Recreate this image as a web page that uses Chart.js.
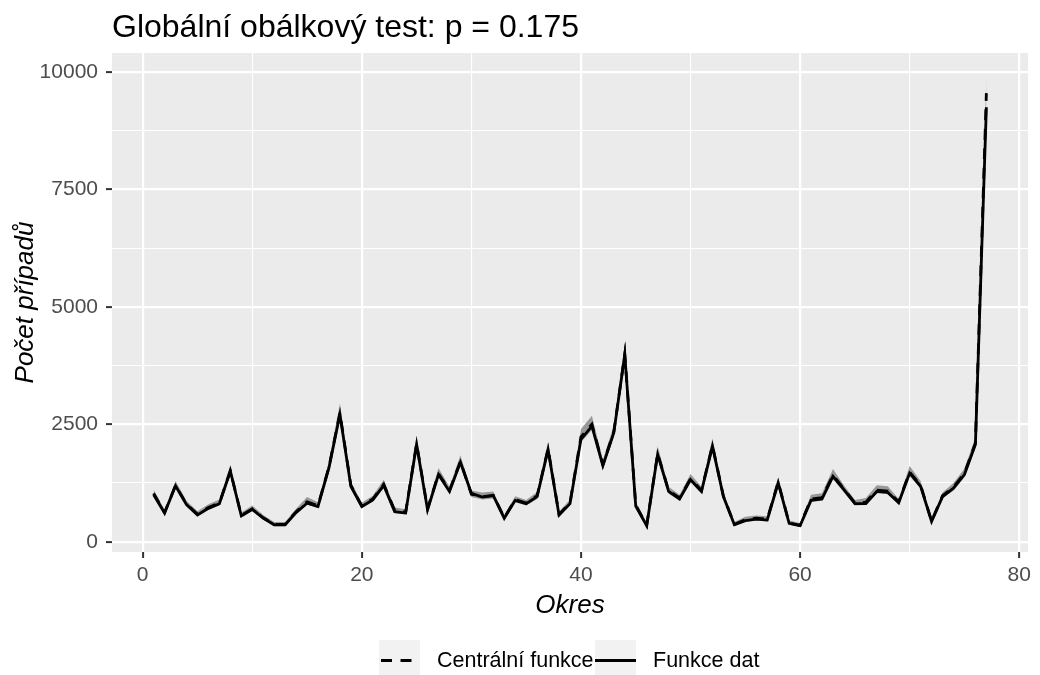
<!DOCTYPE html>
<html>
<head>
<meta charset="utf-8">
<script src="https://cdn.jsdelivr.net/npm/chart.js@4.4.1/dist/chart.umd.min.js"></script>
<style>
  body { margin: 0; background: #fff; font-family: "Liberation Sans", Arial, sans-serif; }
  #wrap { position: relative; width: 1040px; height: 675px; overflow: hidden; }
  #title { position: absolute; left: 112px; top: 10px; font-size: 32px; line-height: 32px; color: #000; white-space: nowrap; }
  .key { position: absolute; top: 640px; width: 41px; height: 41px; }
  .lab { position: absolute; top: 647px; font-size: 21.5px; line-height: 26px; color: #000; white-space: nowrap; }
</style>
</head>
<body>
<div id="wrap">
  <canvas id="chart" width="1040" height="675"></canvas>
  <div id="title">Globální obálkový test: p = 0.175</div>
  <svg class="key" style="left:379px" width="41" height="41">
    <rect width="41" height="41" fill="#F2F2F2"/>
    <line x1="2" y1="20.5" x2="41" y2="20.5" stroke="#000" stroke-width="2.8" stroke-dasharray="11 8.5"/>
  </svg>
  <span class="lab" style="left:437px">Centrální funkce</span>
  <svg class="key" style="left:595px" width="41" height="41">
    <rect width="41" height="41" fill="#F2F2F2"/>
    <line x1="0" y1="20.5" x2="41" y2="20.5" stroke="#000" stroke-width="2.8"/>
  </svg>
  <span class="lab" style="left:653px">Funkce dat</span>
</div>
<script>
// okresy 1..77
const okres = Array.from({ length: 77 }, (_, i) => i + 1);

const funkceDat = [1000, 610, 1190, 790, 570, 710, 810, 1500, 550, 690,
  500, 360, 360, 620, 820, 750, 1570, 2710, 1180, 750,
  890, 1200, 640, 610, 2070, 680, 1430, 1070, 1690, 1030,
  950, 980, 500, 880, 810, 960, 1960, 570, 810, 2180,
  2460, 1620, 2320, 3980, 760, 340, 1860, 1070, 910, 1320,
  1070, 2030, 960, 360, 450, 480, 460, 1250, 390, 340,
  880, 910, 1390, 1110, 810, 810, 1070, 1050, 830, 1460,
  1180, 430, 960, 1140, 1430, 2070, 9250];

const centralni = [1030, 620, 1200, 800, 590, 730, 820, 1510, 560, 700,
  510, 370, 370, 640, 850, 770, 1590, 2740, 1200, 760,
  910, 1220, 670, 630, 2090, 700, 1450, 1090, 1710, 1010,
  960, 990, 510, 900, 820, 980, 1980, 580, 830, 2230,
  2500, 1640, 2340, 3990, 780, 350, 1880, 1090, 930, 1340,
  1090, 2050, 970, 370, 470, 500, 480, 1270, 400, 350,
  910, 940, 1420, 1120, 830, 840, 1100, 1080, 850, 1480,
  1200, 440, 980, 1160, 1460, 2100, 9550];

const dolni = [960, 570, 1130, 750, 540, 680, 770, 1430, 510, 650,
  470, 330, 330, 590, 790, 710, 1500, 2620, 1120, 710,
  850, 1140, 610, 580, 1990, 640, 1370, 1020, 1620, 950,
  900, 920, 470, 840, 770, 910, 1880, 530, 770, 2120,
  2380, 1560, 2240, 3850, 720, 310, 1790, 1020, 870, 1270,
  1020, 1960, 910, 330, 420, 450, 430, 1190, 360, 310,
  850, 870, 1330, 1050, 770, 780, 1030, 1010, 790, 1400,
  1130, 400, 920, 1090, 1380, 2000, 9200];

const horni = [1110, 680, 1290, 870, 650, 800, 900, 1640, 620, 770,
  570, 420, 420, 700, 950, 840, 1720, 2940, 1280, 830,
  980, 1320, 730, 690, 2250, 760, 1570, 1170, 1840, 1090,
  1050, 1070, 570, 970, 890, 1060, 2140, 640, 900, 2400,
  2680, 1740, 2480, 4230, 850, 400, 2030, 1170, 1000, 1440,
  1170, 2200, 1040, 420, 530, 560, 540, 1380, 450, 400,
  1000, 1030, 1550, 1200, 890, 930, 1200, 1180, 910, 1610,
  1290, 490, 1050, 1250, 1560, 2220, 9880];

const xTicks = [0, 20, 40, 60, 80];
const xMinor = [10, 30, 50, 70];
const yTicks = [0, 2500, 5000, 7500, 10000];
const yMinor = [1250, 3750, 6250, 8750];

const pts = arr => okres.map((x, i) => ({ x: x, y: arr[i] }));

// grey ggplot panel
const panelBg = {
  id: 'panelBg',
  beforeDraw(chart) {
    const { ctx, chartArea: a } = chart;
    ctx.save();
    ctx.fillStyle = '#EBEBEB';
    ctx.fillRect(a.left, a.top, a.right - a.left, a.bottom - a.top);
    ctx.restore();
  }
};

function gridOpts(major) {
  return {
    color: '#FFFFFF',
    lineWidth: c => (c.tick && major.includes(c.tick.value)) ? 2.2 : 1.1,
    tickColor: c => (c.tick && major.includes(c.tick.value)) ? '#333333' : 'rgba(0,0,0,0)',
    tickWidth: 2,
    tickLength: 6
  };
}

Chart.defaults.font.family = '"Liberation Sans", Arial, sans-serif';

new Chart(document.getElementById('chart'), {
  type: 'line',
  data: {
    datasets: [
      {
        label: 'Funkce dat',
        data: pts(funkceDat),
        borderColor: '#000000',
        borderWidth: 2.8,
        borderCapStyle: 'butt',
        borderJoinStyle: 'miter',
        pointRadius: 0,
        fill: false,
        order: 0
      },
      {
        label: 'Centrální funkce',
        data: pts(centralni),
        borderColor: '#000000',
        borderWidth: 2.8,
        borderDash: [11, 8.5],
        borderCapStyle: 'butt',
        pointRadius: 0,
        fill: false,
        order: 1
      },
      {
        label: 'dolni',
        data: pts(dolni),
        borderWidth: 0,
        borderColor: 'rgba(0,0,0,0)',
        pointRadius: 0,
        fill: false,
        order: 3
      },
      {
        label: 'horni',
        data: pts(horni),
        borderWidth: 0,
        borderColor: 'rgba(0,0,0,0)',
        backgroundColor: '#999999',
        pointRadius: 0,
        fill: '-1',
        order: 2
      }
    ]
  },
  options: {
    responsive: false,
    animation: false,
    layout: { padding: { left: 0, top: 53, right: 12, bottom: 0 } },
    plugins: {
      legend: { display: false },
      tooltip: { enabled: false }
    },
    scales: {
      x: {
        type: 'linear',
        min: -2.8,
        max: 80.8,
        afterBuildTicks: s => { s.ticks = [0, 10, 20, 30, 40, 50, 60, 70, 80].map(v => ({ value: v })); },
        afterFit: s => { s.height = 123; },
        grid: gridOpts(xTicks),
        border: { display: false },
        ticks: {
          autoSkip: false,
          maxRotation: 0,
          padding: 5,
          color: '#4D4D4D',
          font: { size: 21 },
          callback: v => xTicks.includes(v) ? String(v) : ''
        },
        title: {
          display: true,
          text: 'Okres',
          color: '#000000',
          font: { size: 26, style: 'italic' },
          padding: { top: 0, bottom: 54 }
        }
      },
      y: {
        type: 'linear',
        min: -219,
        max: 10404,
        afterBuildTicks: s => { s.ticks = [0, 1250, 2500, 3750, 5000, 6250, 7500, 8750, 10000].map(v => ({ value: v })); },
        afterFit: s => { s.width = 112; },
        grid: gridOpts(yTicks),
        border: { display: false },
        ticks: {
          autoSkip: false,
          padding: 8,
          color: '#4D4D4D',
          font: { size: 21 },
          callback: v => yTicks.includes(v) ? String(v) : ''
        },
        title: {
          display: true,
          text: 'Počet případů',
          color: '#000000',
          font: { size: 26, style: 'italic' },
          padding: { top: 10, bottom: 0 }
        }
      }
    }
  },
  plugins: [panelBg]
});
</script>
</body>
</html>
